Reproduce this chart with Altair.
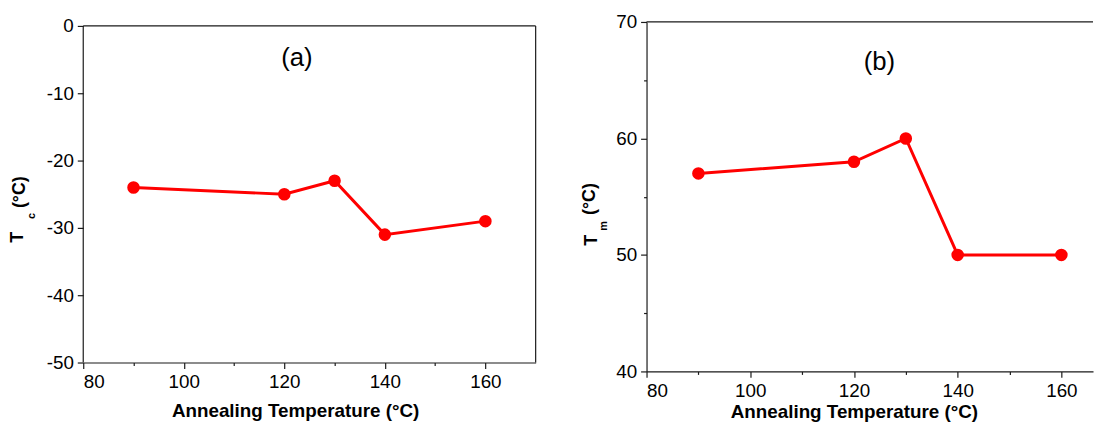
import altair as alt
import pandas as pd

# ---------------- data ----------------
anneal_temp = [90, 120, 130, 140, 160]
tc_values = [-24, -25, -23, -31, -29]
tm_values = [57, 58, 60, 50, 50]

x_tick_values = [80, 90, 100, 110, 120, 130, 140, 150, 160]
tc_tick_values = [-50, -45, -40, -35, -30, -25, -20, -15, -10, -5, 0]
tm_tick_values = [40, 45, 50, 55, 60, 65, 70]

tc_frame = [-50, 0]          # frame of panel (a)
tc_domain = [-50, 0.588]     # scale reaches a little above the frame
tm_domain = [40, 70]
x_domain_a = [80, 170]
x_domain_b = [80, 166.1]     # panel (b) is cut off at the right edge

panel_labels = ["(a)", "(b)"]
panel_label_x = [122.5, 124.9]
panel_label_y = [-5.9, 65.9]

x_title = "Annealing Temperature (°C)"
ytitle_a = ["T", "c", "(°C)"]
ytitle_b = ["T", "m", "(°C)"]

FONT = "Liberation Sans"
RED = "#ff0000"
AX = "#1a1a1a"


def axes(xdomain, ydomain, yticks, xtitle_x, xtitle_y, ydomain_line):
    x_axis = alt.Axis(
        values=x_tick_values,
        labelExpr="datum.value % 20 == 0 ? '' + datum.value : ''",
        tickSize={"condition": {"test": "datum.value % 20 != 0", "value": 3}, "value": 6},
        title=x_title, titleX=xtitle_x, titleY=xtitle_y, titleAlign="center",
        titleBaseline="alphabetic", titleFontSize=19, titleFontWeight="bold",
        titleFont=FONT, titleColor="#000000",
    )
    y_axis = alt.Axis(
        values=yticks,
        labelExpr="datum.value % 10 == 0 ? '' + datum.value : ''",
        tickSize={"condition": {"test": "datum.value % 10 != 0", "value": 3}, "value": 6},
        title=None, domain=ydomain_line,
    )
    x_enc = alt.X("temp:Q", scale=alt.Scale(domain=xdomain, nice=False, zero=False), axis=x_axis)
    y_enc = alt.Y("val:Q", scale=alt.Scale(domain=ydomain, nice=False, zero=False), axis=y_axis)
    return x_enc, y_enc


def data_layers(values, x_enc, y_enc, label, lx, ly, ytitle, ytitle_pos):
    df = pd.DataFrame({"temp": anneal_temp, "val": values})
    base = alt.Chart(df)
    line = base.mark_line(color=RED, strokeWidth=3).encode(x=x_enc, y=y_enc)
    pts = base.mark_circle(color=RED, size=160, opacity=1).encode(x="temp:Q", y="val:Q")
    lab = alt.Chart(pd.DataFrame({"x": [lx], "y": [ly], "t": [label]})).mark_text(
        font=FONT, fontSize=26, align="center", baseline="alphabetic", color="#000000"
    ).encode(x="x:Q", y="y:Q", text="t:N")
    layers = [line, pts, lab]
    for t, (dx, dy, fs) in zip(ytitle, ytitle_pos):
        layers.append(
            alt.Chart(alt.Data(values=[{"k": 1}])).mark_text(
                text=t, font=FONT, fontSize=fs, fontWeight="bold", angle=270,
                align="left", baseline="alphabetic", color="#000000"
            ).encode(x=alt.value(dx), y=alt.value(dy))
        )
    return layers


one = alt.Data(values=[{"k": 1}])

# ---- panel (a)
xa, ya = axes(x_domain_a, tc_domain, tc_tick_values, 214, 55, False)
layers_a = data_layers(tc_values, xa, ya, panel_labels[0], panel_label_x[0], panel_label_y[0],
                       ytitle_a, [(-61, 223, 18), (-49, 199, 11), (-59, 188, 18)])
frame_top = alt.Chart(one).mark_rule(color=AX, strokeWidth=1.2).encode(
    x=alt.datum(x_domain_a[0]), x2=alt.datum(x_domain_a[1]), y=alt.datum(tc_frame[1]))
frame_left = alt.Chart(one).mark_rule(color=AX, strokeWidth=1.2).encode(
    x=alt.datum(x_domain_a[0]), y=alt.datum(tc_frame[0]), y2=alt.datum(tc_frame[1]))
frame_right = alt.Chart(one).mark_rule(color=AX, strokeWidth=1.2).encode(
    x=alt.datum(x_domain_a[1]), y=alt.datum(tc_frame[0]), y2=alt.datum(tc_frame[1]))
left = alt.layer(*layers_a, frame_top, frame_left, frame_right).properties(
    width=457, height=344, view=alt.ViewBackground(stroke="transparent"))

# ---- panel (b)
xb, yb = axes(x_domain_b, tm_domain, tm_tick_values, 209.5, 47, True)
layers_b = data_layers(tm_values, xb, yb, panel_labels[1], panel_label_x[1], panel_label_y[1],
                       ytitle_b, [(-50, 226, 18), (-40, 211, 11), (-52, 195, 18)])
frame_top_b = alt.Chart(one).mark_rule(color=AX, strokeWidth=1.2).encode(
    x=alt.datum(x_domain_b[0]), x2=alt.datum(x_domain_b[1]), y=alt.datum(tm_domain[1]))
right = alt.layer(*layers_b, frame_top_b).properties(
    width=451, height=353, view=alt.ViewBackground(stroke="transparent"))

chart = alt.hconcat(left, right, spacing=43).properties(
    padding={"left": 0, "top": 2, "right": 0, "bottom": 0}
).configure_axis(
    grid=False, domainColor=AX, domainWidth=1.2, tickColor=AX, tickWidth=1.2,
    labelFont=FONT, labelFontSize=19, labelColor="#000000", labelPadding=4,
)

chart.save("out.html", embed_options={"renderer": "svg", "actions": False})
